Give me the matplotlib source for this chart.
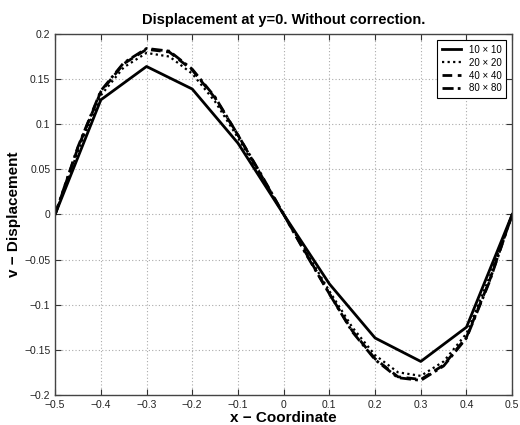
import numpy as np
import matplotlib
matplotlib.use("Agg")
from matplotlib import pyplot as plt

# values (v-displacement along y=0)
x_10 = [-0.5, -0.4, -0.3, -0.2, -0.1, 0.0, 0.1, 0.2, 0.3, 0.4, 0.5]
v_10 = [0.0, 0.127, 0.164, 0.139, 0.079, 0.0, -0.077, -0.137, -0.163, -0.125, 0.0]

x_fine = [-0.5, -0.45, -0.4, -0.35, -0.3, -0.25, -0.2, -0.15, -0.1, -0.05, 0.0,
          0.05, 0.1, 0.15, 0.2, 0.25, 0.3, 0.35, 0.4, 0.45, 0.5]
v_20 = [0.0, 0.070, 0.132, 0.163, 0.179, 0.175, 0.156, 0.125, 0.085, 0.042, 0.0,
        -0.042, -0.085, -0.125, -0.156, -0.175, -0.179, -0.163, -0.132, -0.070, 0.0]
v_40 = [0.0, 0.074, 0.136, 0.167, 0.183, 0.180, 0.160, 0.129, 0.088, 0.044, 0.0,
        -0.044, -0.088, -0.129, -0.160, -0.180, -0.183, -0.167, -0.136, -0.074, 0.0]
v_80 = [0.0, 0.075, 0.137, 0.168, 0.184, 0.181, 0.161, 0.130, 0.088, 0.045, 0.0,
        -0.045, -0.088, -0.130, -0.161, -0.181, -0.184, -0.168, -0.137, -0.075, 0.0]

labels = ["10 \u00d7 10", "20 \u00d7 20", "40 \u00d7 40", "80 \u00d7 80"]

plt.rcParams["font.family"] = ["Liberation Sans", "DejaVu Sans"]

fig = plt.figure(figsize=(5.2, 4.25), dpi=100)
ax = fig.add_axes([0.106, 0.071, 0.879, 0.849])

ax.plot(x_10, v_10, color="black", linestyle="-", linewidth=2.0, label=labels[0])
ax.plot(x_fine, v_20, color="black", linestyle=(0, (1, 1.5)), linewidth=1.6, label=labels[1])
ax.plot(x_fine, v_40, color="black", linestyle=(0, (3.5, 2)), linewidth=2.0, label=labels[2])
ax.plot(x_fine, v_80, color="black", linestyle=(0, (4, 1.5, 1, 1.5)), linewidth=2.0,
        label=labels[3])

ax.set_xlim(-0.5, 0.5)
ax.set_ylim(-0.2, 0.2)
ax.set_xticks(np.arange(-0.5, 0.51, 0.1))
ax.set_yticks(np.arange(-0.2, 0.21, 0.05))
ax.set_xticklabels(["\u22120.5", "\u22120.4", "\u22120.3", "\u22120.2", "\u22120.1", "0",
                    "0.1", "0.2", "0.3", "0.4", "0.5"])
ax.set_yticklabels(["\u22120.2", "\u22120.15", "\u22120.1", "\u22120.05", "0",
                    "0.05", "0.1", "0.15", "0.2"])
ax.tick_params(direction="in", top=True, right=True, labelsize=7.5, length=4,
               colors="#333333", labelcolor="#222222")
ax.grid(True, linestyle=(0, (1, 2)), color="#aaaaaa", linewidth=0.8)
for s in ax.spines.values():
    s.set_color("#444444")
    s.set_linewidth(1.0)

ax.set_title("Displacement at y=0. Without correction.", fontsize=10.5,
             fontweight="bold", pad=7)
ax.set_xlabel("x \u2212 Coordinate", fontsize=11, fontweight="bold", labelpad=1)
ax.set_ylabel("v \u2212 Displacement", fontsize=11, fontweight="bold", labelpad=2)

leg = ax.legend(loc="upper right", fontsize=7, fancybox=False, framealpha=1,
                edgecolor="black", handlelength=2.0, borderpad=0.5,
                labelspacing=0.3, borderaxespad=0.6)
leg.get_frame().set_linewidth(0.8)

fig.savefig("out.png", dpi=100)
